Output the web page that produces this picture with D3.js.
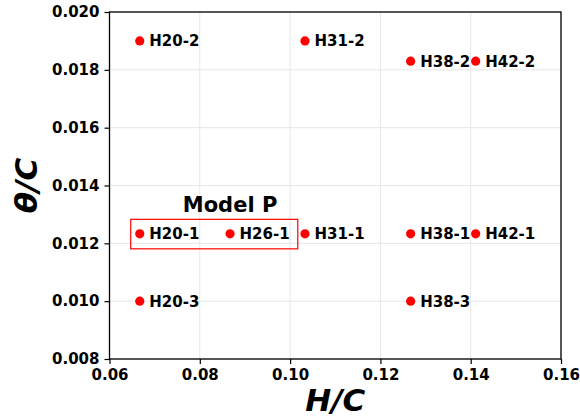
<!DOCTYPE html>
<html>
<head>
<meta charset="utf-8">
<script src="https://cdn.jsdelivr.net/npm/d3@7"></script>
<style>
  html, body { margin: 0; padding: 0; background: #fff; }
  svg { display: block; font-family: "DejaVu Sans", sans-serif; }
</style>
</head>
<body>
<svg id="chart" width="580" height="418"></svg>
<script>
// Specimen labels and their H/C, θ/C coordinates
const names = ["H20-2", "H31-2", "H38-2", "H42-2",
               "H20-1", "H26-1", "H31-1", "H38-1", "H42-1",
               "H20-3", "H38-3"];
const hc = [0.0667, 0.1033, 0.1267, 0.1411,
            0.0667, 0.0867, 0.1033, 0.1267, 0.1411,
            0.0667, 0.1267];
const thetaC = [0.0190, 0.0190, 0.0183, 0.0183,
                0.01233, 0.01233, 0.01233, 0.01233, 0.01233,
                0.0100, 0.0100];

const xTicks = [0.06, 0.08, 0.10, 0.12, 0.14, 0.16];
const yTicks = [0.008, 0.010, 0.012, 0.014, 0.016, 0.018, 0.020];

// Highlight box around the Model P group (data coordinates)
const modelBoxX = [0.0647, 0.1017];
const modelBoxY = [0.01181, 0.01283];
const modelLabel = "Model P";
const modelLabelAt = [0.0867, 0.01283];

const svg = d3.select("#chart");
const margin = { left: 109.5, right: 19, top: 12, bottom: 59 };
const W = 580, H = 418;

const x = d3.scaleLinear().domain([0.06, 0.16]).range([margin.left, W - margin.right]);
const y = d3.scaleLinear().domain([0.008, 0.020]).range([H - margin.bottom, margin.top]);

// grid
const grid = svg.append("g");
grid.selectAll("line.gx").data(xTicks).join("line")
  .attr("x1", d => x(d)).attr("x2", d => x(d))
  .attr("y1", y.range()[0]).attr("y2", y.range()[1])
  .attr("stroke", "#e6e6e6").attr("stroke-width", 1);
grid.selectAll("line.gy").data(yTicks).join("line")
  .attr("y1", d => y(d)).attr("y2", d => y(d))
  .attr("x1", x.range()[0]).attr("x2", x.range()[1])
  .attr("stroke", "#e6e6e6").attr("stroke-width", 1);

// axes
const xAxis = svg.append("g")
  .attr("transform", `translate(0,${y.range()[0]})`)
  .call(d3.axisBottom(x).tickValues(xTicks).tickFormat(d3.format(".2f")).tickSize(5).tickPadding(5));
const yAxis = svg.append("g")
  .attr("transform", `translate(${x.range()[0]},0)`)
  .call(d3.axisLeft(y).tickValues(yTicks).tickFormat(d3.format(".3f")).tickSize(5).tickPadding(5));
[xAxis, yAxis].forEach(a => {
  a.select(".domain").remove();
  a.selectAll("text").attr("font-family", "DejaVu Sans").attr("font-weight", "bold")
    .attr("font-size", 15).attr("fill", "#000");
  a.selectAll("line").attr("stroke", "#000").attr("stroke-width", 1.2);
});

// frame
svg.append("rect")
  .attr("x", x.range()[0]).attr("y", y.range()[1])
  .attr("width", x.range()[1] - x.range()[0])
  .attr("height", y.range()[0] - y.range()[1])
  .attr("fill", "none").attr("stroke", "#000").attr("stroke-width", 1.3);

// Model P box and title
svg.append("rect")
  .attr("x", x(modelBoxX[0])).attr("y", y(modelBoxY[1]))
  .attr("width", x(modelBoxX[1]) - x(modelBoxX[0]))
  .attr("height", y(modelBoxY[0]) - y(modelBoxY[1]))
  .attr("fill", "none").attr("stroke", "#ff0000").attr("stroke-width", 1.2);
svg.append("text")
  .attr("x", x(modelLabelAt[0]))
  .attr("y", y(modelLabelAt[1]) - 7)
  .attr("text-anchor", "middle")
  .attr("font-weight", "bold").attr("font-size", 21)
  .text(modelLabel);

// points and labels
const pts = names.map((n, i) => ({ n, x: hc[i], y: thetaC[i] }));
svg.append("g").selectAll("circle").data(pts).join("circle")
  .attr("cx", d => x(d.x)).attr("cy", d => y(d.y)).attr("r", 4.6)
  .attr("fill", "#ff0000");
svg.append("g").selectAll("text").data(pts).join("text")
  .attr("x", d => x(d.x) + 9.5).attr("y", d => y(d.y))
  .attr("dy", "0.36em")
  .attr("font-weight", "bold").attr("font-size", 15)
  .text(d => d.n);

// axis titles
svg.append("text")
  .attr("x", (x.range()[0] + x.range()[1]) / 2).attr("y", 411)
  .attr("text-anchor", "middle")
  .attr("font-weight", "bold").attr("font-style", "italic").attr("font-size", 31)
  .text("H/C");
svg.append("text")
  .attr("transform", `translate(37,${(y.range()[0] + y.range()[1]) / 2}) rotate(-90)`)
  .attr("text-anchor", "middle")
  .attr("font-weight", "bold").attr("font-style", "italic").attr("font-size", 31)
  .text("θ/C");
</script>
</body>
</html>
